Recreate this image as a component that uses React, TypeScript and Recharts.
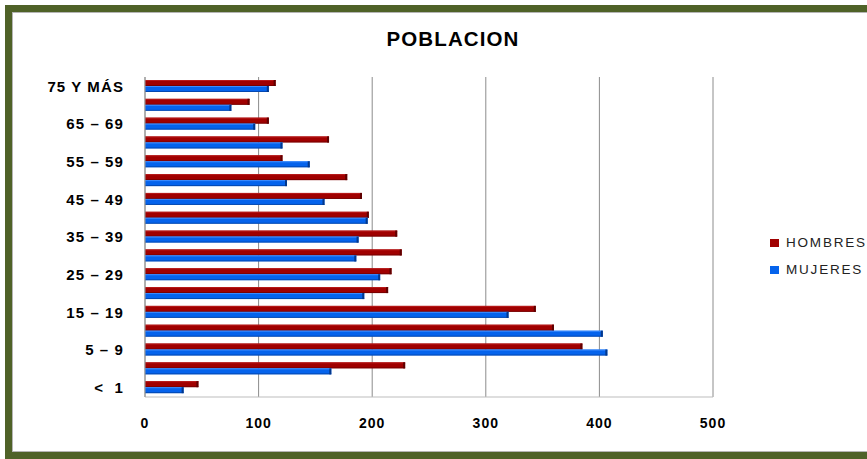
import React from "react";
import { BarChart, Bar, XAxis, YAxis, CartesianGrid } from "recharts";

// age groups, top to bottom
const grupos = [
  "75 Y MÁS",
  "70 – 74",
  "65 – 69",
  "60 – 64",
  "55 – 59",
  "50 – 54",
  "45 – 49",
  "40 – 44",
  "35 – 39",
  "30 – 34",
  "25 – 29",
  "20 – 24",
  "15 – 19",
  "10 – 14",
  "5 – 9",
  "1 – 4",
  "<\u00A0\u00A01",
];
const hombres = [115, 92, 109, 162, 121, 178, 191, 197, 222, 226, 217, 214, 344, 360, 385, 229, 47];
const mujeres = [109, 76, 97, 121, 145, 125, 158, 196, 188, 186, 207, 193, 320, 403, 407, 164, 34];
const xTicks = [0, 100, 200, 300, 400, 500];

const series = [
  { key: "hombres", name: "HOMBRES", color: "#A00000", dark: "#5E0000", light: "#B81A1A" },
  { key: "mujeres", name: "MUJERES", color: "#0563EC", dark: "#03378A", light: "#3B8BFF" },
];

const data = grupos.map((grupo, i) => ({
  grupo,
  hombres: hombres[i],
  mujeres: mujeres[i],
}));

const xTickFont = {
  fontFamily: "'Liberation Sans', Arial, sans-serif",
  fontWeight: 700,
  fontSize: 14,
  letterSpacing: 1,
  fill: "#000",
};

const yTickFont = { ...xTickFont, fontSize: 15, letterSpacing: 1.1 };

// flat bar with a darker end cap, a bit like the 3D look of the original
const make3dBar = (dark: string, light: string) => (props: any) => {
  const { x, y, width, height, fill } = props;
  if (!width || width <= 0) return null;
  return (
    <g>
      <rect x={x} y={y} width={width} height={height} fill={fill} />
      <rect x={x} y={y} width={width} height={1} fill={light} />
      <rect x={x} y={y + height - 1} width={width} height={1} fill={dark} opacity={0.6} />
      <rect x={x + width - 2} y={y} width={2} height={height} fill={dark} />
    </g>
  );
};

export default function App() {
  return (
    <div
      style={{
        position: "absolute",
        left: 0,
        top: 0,
        width: 867,
        height: 459,
        background: "#fff",
        overflow: "hidden",
      }}
    >
      {/* green frame */}
      <div
        style={{
          position: "absolute",
          left: 5,
          top: 5,
          width: 940,
          height: 440,
          border: "7px solid #4F6228",
        }}
      />
      {/* inner grey border */}
      <div
        style={{
          position: "absolute",
          left: 12,
          top: 12,
          width: 920,
          height: 438,
          border: "1px solid #B5B5B5",
        }}
      />
      <div
        style={{
          position: "absolute",
          left: 0,
          top: 27,
          width: 906,
          textAlign: "center",
          fontFamily: "'Liberation Sans', Arial, sans-serif",
          fontWeight: 700,
          fontSize: 20.5,
          letterSpacing: 1.1,
          color: "#000",
        }}
      >
        POBLACION
      </div>

      <div style={{ position: "absolute", left: 0, top: 0 }}>
        <BarChart
          layout="vertical"
          width={867}
          height={459}
          data={data}
          margin={{ top: 77, right: 154, bottom: 0, left: 0 }}
          barSize={6}
          barGap={0}
        >
          <CartesianGrid horizontal={false} stroke="#8C8C8C" />
          <XAxis
            type="number"
            domain={[0, 500]}
            ticks={xTicks}
            height={62}
            axisLine={{ stroke: "#BDBDBD" }}
            tickLine={false}
            tickSize={0}
            tickMargin={21}
            tick={xTickFont}
          />
          <YAxis
            type="category"
            dataKey="grupo"
            width={145}
            interval={1}
            axisLine={{ stroke: "#9A9A9A" }}
            tickLine={false}
            tickSize={0}
            tickMargin={21}
            tick={yTickFont}
          />
          {series.map((s) => (
            <Bar
              key={s.key}
              dataKey={s.key}
              name={s.name}
              fill={s.color}
              shape={make3dBar(s.dark, s.light)}
              isAnimationActive={false}
            />
          ))}
        </BarChart>
      </div>

      {/* legend */}
      <div style={{ position: "absolute", left: 770, top: 229 }}>
        {series.map((s) => (
          <div
            key={s.key}
            style={{
              display: "flex",
              alignItems: "center",
              height: 27,
              fontFamily: "'Liberation Sans', Arial, sans-serif",
              fontSize: 13.5,
              letterSpacing: 1.8,
              color: "#222",
              whiteSpace: "nowrap",
            }}
          >
            <span
              style={{
                display: "inline-block",
                width: 9,
                height: 8,
                background: s.color,
                marginRight: 7,
              }}
            />
            {s.name}
          </div>
        ))}
      </div>
    </div>
  );
}
